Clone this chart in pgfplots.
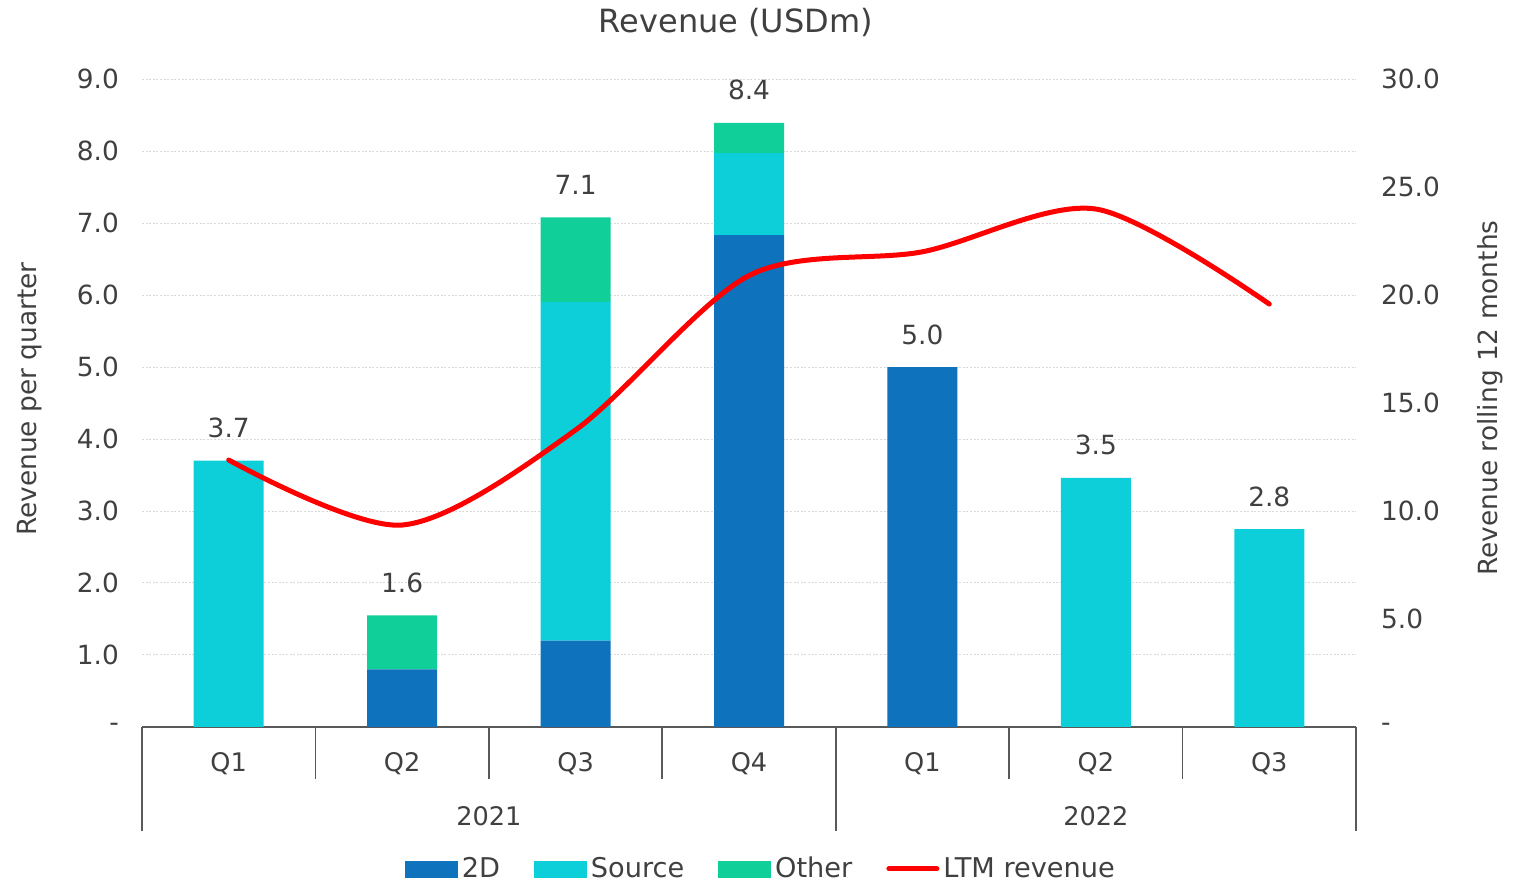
\documentclass[border=0pt]{standalone}
\usepackage{pgfplots}
\pgfplotsset{compat=1.18}
\usepackage{pgfplotstable}
\usepackage{fontspec}
\setmainfont{DejaVu Sans}
\definecolor{cBlue}{RGB}{14,114,188}
\definecolor{cCyan}{RGB}{12,207,217}
\definecolor{cGreen}{RGB}{17,207,152}
\definecolor{cText}{RGB}{64,64,64}
\definecolor{cAxis}{RGB}{89,89,89}
\definecolor{cGrid}{RGB}{217,217,217}

\pgfplotstableread{
x  d2    src   oth   ltm
0  0     3.70  0     12.36
1  0.80  0     0.75  9.35
2  1.20  4.70  1.18  13.75
3  6.83  1.14  0.42  20.90
4  5.00  0     0     22.00
5  0     3.46  0     23.98
6  0     2.75  0     19.58
}\revdata

\newcommand{\tickfont}{\fontsize{13.2}{16}\selectfont}
\newcommand{\catfont}{\fontsize{12.8}{15}\selectfont}
\newcommand{\legfont}{\fontsize{13.6}{16}\selectfont}

\begin{document}
\begin{tikzpicture}[font=\tickfont, every node/.style={text=cText}]
\useasboundingbox (0,0) rectangle (763pt,441pt);
\begin{axis}[
  at={(71pt,77.5pt)}, anchor=south west,
  scale only axis, width=607pt, height=324pt,
  xmin=-0.5, xmax=6.5, ymin=0, ymax=9,
  ybar stacked, bar width=35pt,
  xtick={0,...,6}, xticklabels={Q1,Q2,Q3,Q4,Q1,Q2,Q3},
  xticklabel style={font=\catfont, anchor=center, yshift=-18.5pt},
  ytick={0,...,9},
  yticklabels={-,1.0,2.0,3.0,4.0,5.0,6.0,7.0,8.0,9.0},
  yticklabel style={xshift=-8pt, font=\tickfont},
  ymajorgrids, grid style={cGrid, line width=0.5pt, dash pattern=on 1pt off 0.8pt},
  major tick length=0pt,
  axis line style={draw=none},
  clip=false,
]
\addplot[fill=cBlue, draw=none] table[x=x, y=d2] {\revdata};
\addplot[fill=cCyan, draw=none] table[x=x, y=src] {\revdata};
\addplot[fill=cGreen, draw=none] table[x=x, y=oth] {\revdata};
% total labels
\node[anchor=base, yshift=11.5pt] at (axis cs:0,3.70) {3.7};
\node[anchor=base, yshift=11.5pt] at (axis cs:1,1.55) {1.6};
\node[anchor=base, yshift=11.5pt] at (axis cs:2,7.08) {7.1};
\node[anchor=base, yshift=11.5pt] at (axis cs:3,8.39) {8.4};
\node[anchor=base, yshift=11.5pt] at (axis cs:4,5.00) {5.0};
\node[anchor=base, yshift=11.5pt] at (axis cs:5,3.46) {3.5};
\node[anchor=base, yshift=11.5pt] at (axis cs:6,2.75) {2.8};
% category axis
\draw[cAxis, line width=1pt] (axis cs:-0.5,0) -- (axis cs:6.5,0);
\draw[cAxis, line width=0.8pt] (axis cs:0.5,0) -- ([yshift=-26pt]axis cs:0.5,0);
\draw[cAxis, line width=0.8pt] (axis cs:1.5,0) -- ([yshift=-26pt]axis cs:1.5,0);
\draw[cAxis, line width=0.8pt] (axis cs:2.5,0) -- ([yshift=-26pt]axis cs:2.5,0);
\draw[cAxis, line width=0.8pt] (axis cs:4.5,0) -- ([yshift=-26pt]axis cs:4.5,0);
\draw[cAxis, line width=0.8pt] (axis cs:5.5,0) -- ([yshift=-26pt]axis cs:5.5,0);
\draw[cAxis, line width=0.8pt] (axis cs:-0.5,0) -- ([yshift=-52pt]axis cs:-0.5,0);
\draw[cAxis, line width=0.8pt] (axis cs:3.5,0) -- ([yshift=-52pt]axis cs:3.5,0);
\draw[cAxis, line width=0.8pt] (axis cs:6.5,0) -- ([yshift=-52pt]axis cs:6.5,0);
\node[font=\catfont, anchor=center] at ([yshift=-44.5pt]axis cs:1.5,0) {2021};
\node[font=\catfont, anchor=center] at ([yshift=-44.5pt]axis cs:5,0) {2022};
\end{axis}
\begin{axis}[
  at={(71pt,77.5pt)}, anchor=south west,
  scale only axis, width=607pt, height=324pt,
  xmin=-0.5, xmax=6.5, ymin=0, ymax=30,
  hide x axis,
  axis line style={draw=none},
  ytick={0,5,...,30},
  yticklabels={-,5.0,10.0,15.0,20.0,25.0,30.0},
  yticklabel pos=right,
  yticklabel style={xshift=9pt, font=\tickfont},
  major tick length=0pt,
  clip=false,
  legend columns=-1,
  legend style={at={(0.5107,-0.2191)}, anchor=center, draw=none, fill=none,
    font=\legfont, inner sep=0pt,
    /tikz/every even column/.append style={column sep=15pt},
    nodes={inner sep=2pt, text=cText}},
]
\addlegendimage{legend image code/.code={\fill[cBlue] (0pt,-4pt) rectangle (26pt,4pt);}}
\addlegendentry{2D}
\addlegendimage{legend image code/.code={\fill[cCyan] (0pt,-4pt) rectangle (26pt,4pt);}}
\addlegendentry{Source}
\addlegendimage{legend image code/.code={\fill[cGreen] (0pt,-4pt) rectangle (26pt,4pt);}}
\addlegendentry{Other}
\addplot[red, line width=2.5pt, smooth, tension=0.5, line cap=round,
  legend image code/.code={\draw[red, line width=2.5pt, line cap=round] (1pt,0pt) -- (25pt,0pt);}]
  table[x=x, y=ltm] {\revdata};
\addlegendentry{LTM revenue}
\end{axis}
\node[font=\fontsize{16}{19}\selectfont] at (368pt,430pt) {Revenue (USDm)};
\node[rotate=90, font=\tickfont] at (15pt,241.5pt) {Revenue per quarter};
\node[rotate=90, font=\tickfont] at (745pt,242pt) {Revenue rolling 12 months};
\end{tikzpicture}
\end{document}
